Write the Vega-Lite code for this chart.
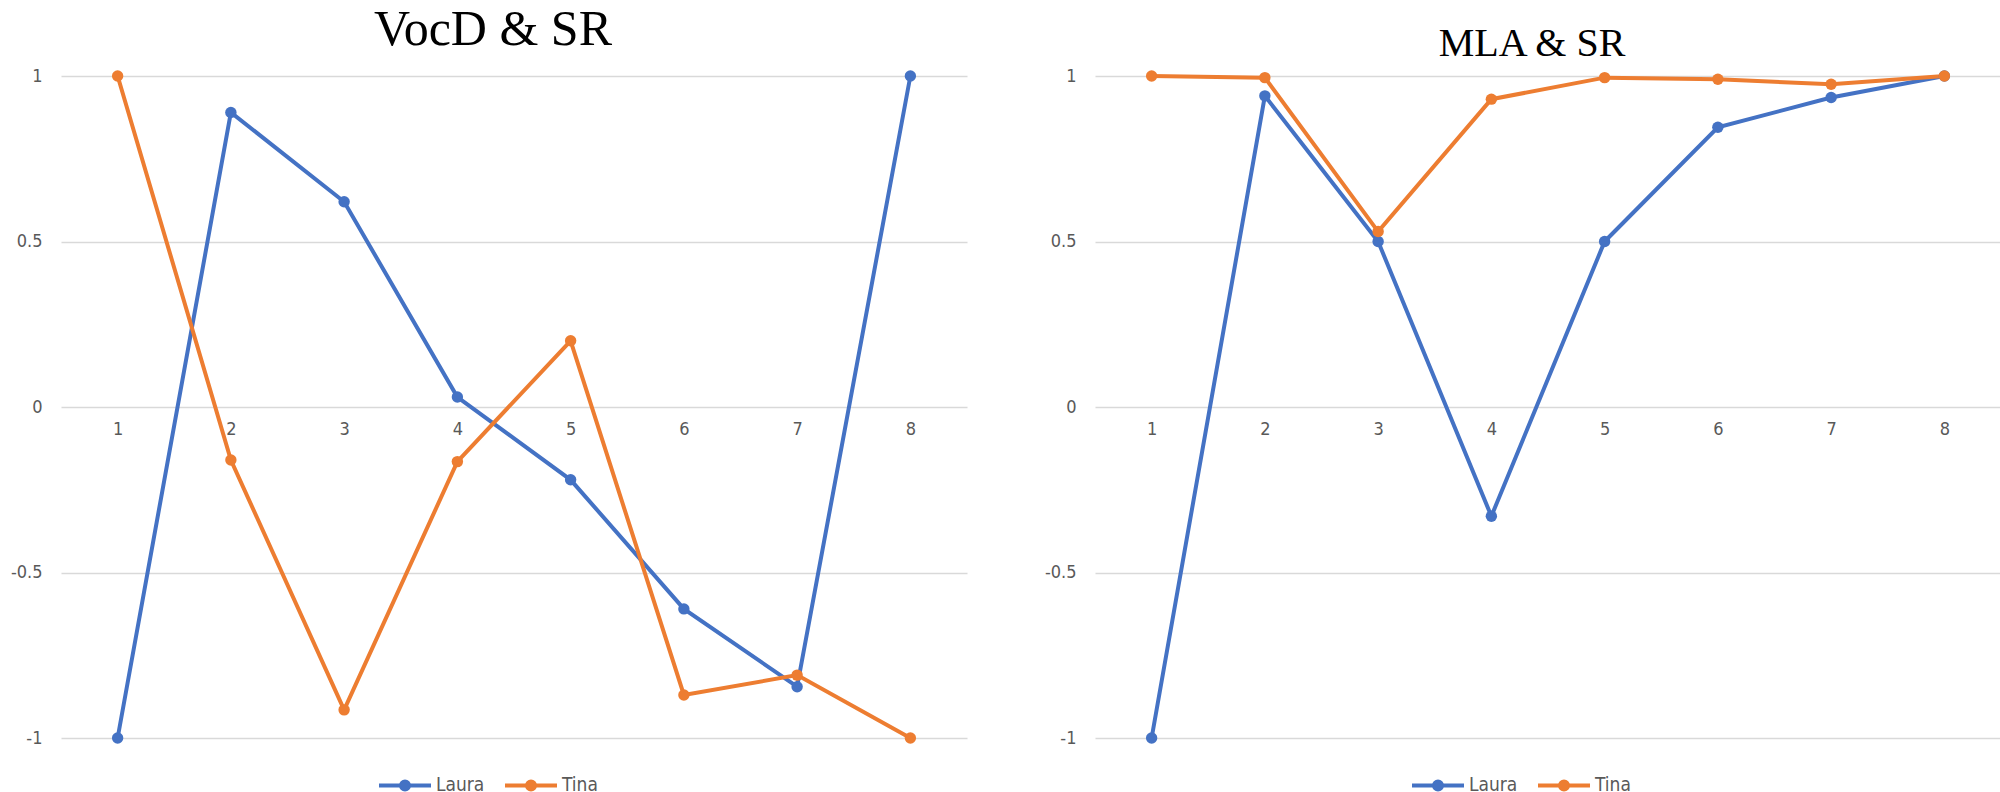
{
  "$schema": "https://vega.github.io/schema/vega-lite/v6.json",
  "padding": {"left": 10, "top": 5, "right": 3, "bottom": 0},
  "background": "white",
  "bounds": "flush",
  "spacing": 128,
  "resolve": {"scale": {"color": "independent"}, "legend": {"color": "independent"}},
  "config": {
    "view": {"stroke": null},
    "font": "DejaVu Sans Condensed, Roboto, sans-serif",
    "axisY": {"grid": true, "gridColor": "#d9d9d9", "gridWidth": 1.5, "domain": false, "ticks": false, "labelPadding": 19, "labelFontSize": 18, "labelColor": "#595959", "labelFont": "DejaVu Sans Condensed, Roboto, sans-serif", "title": null},
    "axisX": {"domain": false, "ticks": false, "grid": false, "labelAngle": 0, "labelPadding": 13, "labelFontSize": 18, "labelColor": "#595959", "labelFont": "DejaVu Sans Condensed, Roboto, sans-serif", "title": null},
    "legend": {"orient": "none", "direction": "horizontal", "title": null, "symbolType": "M-1,0L1,0M-0.154,0A0.154,0.154,0,1,1,0.154,0A0.154,0.154,0,1,1,-0.154,0", "symbolSize": 2704, "symbolStrokeWidth": 4, "labelFontSize": 19, "labelColor": "#595959", "labelFont": "DejaVu Sans Condensed, Roboto, sans-serif", "columnPadding": 12, "labelOffset": 3}
  },
  "hconcat": [
    {
      "width": 906,
      "height": 662,
      "title": {"text": "VocD & SR", "font": "Liberation Serif", "fontSize": 50, "fontWeight": "normal", "color": "#000000", "anchor": "middle", "dx": -21, "offset": 12},
      "data": {"values": [
        {"x": 1, "y": -1, "series": "Laura"},
        {"x": 2, "y": 0.89, "series": "Laura"},
        {"x": 3, "y": 0.62, "series": "Laura"},
        {"x": 4, "y": 0.03, "series": "Laura"},
        {"x": 5, "y": -0.22, "series": "Laura"},
        {"x": 6, "y": -0.61, "series": "Laura"},
        {"x": 7, "y": -0.845, "series": "Laura"},
        {"x": 8, "y": 1, "series": "Laura"},
        {"x": 1, "y": 1, "series": "Tina"},
        {"x": 2, "y": -0.16, "series": "Tina"},
        {"x": 3, "y": -0.915, "series": "Tina"},
        {"x": 4, "y": -0.165, "series": "Tina"},
        {"x": 5, "y": 0.2, "series": "Tina"},
        {"x": 6, "y": -0.87, "series": "Tina"},
        {"x": 7, "y": -0.81, "series": "Tina"},
        {"x": 8, "y": -1, "series": "Tina"}
      ]},
      "mark": {"type": "line", "strokeWidth": 4, "point": {"filled": true, "size": 130}},
      "encoding": {
        "x": {"field": "x", "type": "ordinal", "scale": {"type": "point", "padding": 0.5}, "axis": {"orient": "bottom", "offset": -331}},
        "y": {"field": "y", "type": "quantitative", "scale": {"domain": [-1, 1], "nice": false, "zero": false}, "axis": {"values": [-1, -0.5, 0, 0.5, 1], "labelExpr": "datum.value == 0 ? '0' : (datum.value < 0 ? '-' : '') + abs(datum.value)"}},
        "color": {"field": "series", "type": "nominal", "scale": {"domain": ["Laura", "Tina"], "range": ["#4472C4", "#ED7D31"]}, "legend": {"legendX": 316, "legendY": 681}}
      }
    },
    {
      "width": 906,
      "height": 662,
      "title": {"text": "MLA & SR", "font": "Liberation Serif", "fontSize": 40, "fontWeight": "normal", "color": "#000000", "anchor": "middle", "dx": -16, "offset": 3},
      "data": {"values": [
        {"x": 1, "y": -1, "series": "Laura"},
        {"x": 2, "y": 0.94, "series": "Laura"},
        {"x": 3, "y": 0.5, "series": "Laura"},
        {"x": 4, "y": -0.33, "series": "Laura"},
        {"x": 5, "y": 0.5, "series": "Laura"},
        {"x": 6, "y": 0.845, "series": "Laura"},
        {"x": 7, "y": 0.935, "series": "Laura"},
        {"x": 8, "y": 1, "series": "Laura"},
        {"x": 1, "y": 1, "series": "Tina"},
        {"x": 2, "y": 0.995, "series": "Tina"},
        {"x": 3, "y": 0.53, "series": "Tina"},
        {"x": 4, "y": 0.93, "series": "Tina"},
        {"x": 5, "y": 0.995, "series": "Tina"},
        {"x": 6, "y": 0.99, "series": "Tina"},
        {"x": 7, "y": 0.975, "series": "Tina"},
        {"x": 8, "y": 1, "series": "Tina"}
      ]},
      "mark": {"type": "line", "strokeWidth": 4, "point": {"filled": true, "size": 130}},
      "encoding": {
        "x": {"field": "x", "type": "ordinal", "scale": {"type": "point", "padding": 0.5}, "axis": {"orient": "bottom", "offset": -331}},
        "y": {"field": "y", "type": "quantitative", "scale": {"domain": [-1, 1], "nice": false, "zero": false}, "axis": {"values": [-1, -0.5, 0, 0.5, 1], "labelExpr": "datum.value == 0 ? '0' : (datum.value < 0 ? '-' : '') + abs(datum.value)"}},
        "color": {"field": "series", "type": "nominal", "scale": {"domain": ["Laura", "Tina"], "range": ["#4472C4", "#ED7D31"]}, "legend": {"legendX": 315, "legendY": 681}}
      }
    }
  ]
}
